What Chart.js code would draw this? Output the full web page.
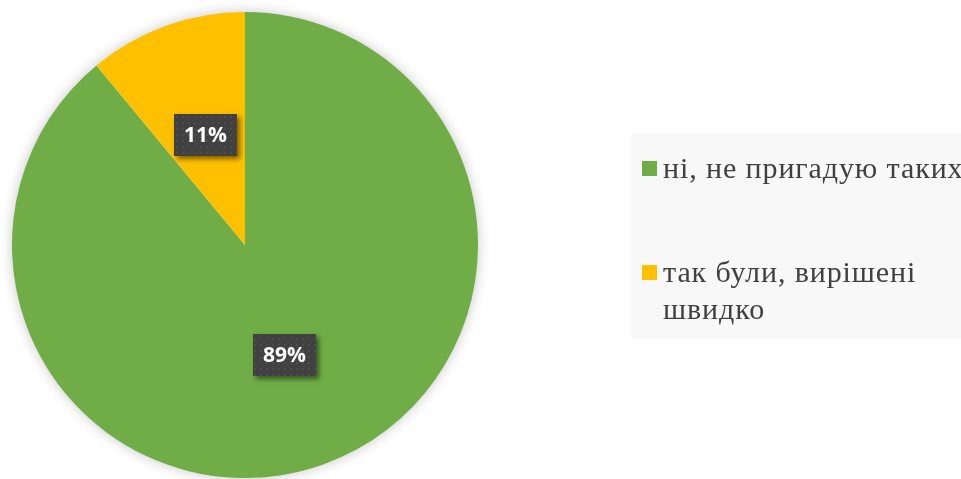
<!DOCTYPE html>
<html>
<head>
<meta charset="utf-8">
<script src="https://cdn.jsdelivr.net/npm/chart.js@4.4.1/dist/chart.umd.min.js"></script>
<style>
  html, body { margin: 0; padding: 0; background: #ffffff; overflow: hidden; }
  #wrap { position: relative; width: 961px; height: 479px; }
</style>
</head>
<body>
<div id="wrap"><canvas id="pieChart"></canvas></div>
<script>
    const categories = ['ні, не пригадую таких', 'так були, вирішені швидко'];
    const shares = [89, 11];
    const sliceColors = ['#70ad47', '#ffc000'];

    const legendFont = '30px "Times New Roman", Times, serif';

    // dotted fill used by the dark value boxes
    function makeDotPattern(ctx) {
        const c = document.createElement('canvas');
        c.width = 6; c.height = 6;
        const p = c.getContext('2d');
        p.fillStyle = '#414141';
        p.fillRect(0, 0, 6, 6);
        p.fillStyle = '#4d4d4d';
        p.fillRect(2, 2, 2, 2);
        return ctx.createPattern(c, 'repeat');
    }

    const pieShadow = {
        id: 'pieShadow',
        beforeDatasetsDraw(chart) {
            const arc = chart.getDatasetMeta(0).data[0];
            if (!arc) return;
            const ctx = chart.ctx;
            ctx.save();
            ctx.shadowColor = 'rgba(0,0,0,0.25)';
            ctx.shadowBlur = 14;
            ctx.fillStyle = '#ffffff';
            ctx.beginPath();
            ctx.arc(arc.x, arc.y, arc.outerRadius - 1, 0, Math.PI * 2);
            ctx.fill();
            ctx.restore();
        }
    };

    const valueBoxes = {
        id: 'valueBoxes',
        afterDatasetsDraw(chart) {
            const ctx = chart.ctx;
            const pattern = makeDotPattern(ctx);
            chart.getDatasetMeta(0).data.forEach(function (arc, i) {
                const pos = arc.tooltipPosition();
                const w = 63, h = 42;
                const x = Math.round(pos.x - w / 2), y = Math.round(pos.y - h / 2);
                ctx.save();
                ctx.shadowColor = 'rgba(0,0,0,0.5)';
                ctx.shadowBlur = 5;
                ctx.shadowOffsetX = 3;
                ctx.shadowOffsetY = 3;
                ctx.fillStyle = '#414141';
                ctx.fillRect(x, y, w, h);
                ctx.restore();
                ctx.save();
                ctx.fillStyle = pattern;
                ctx.fillRect(x, y, w, h);
                ctx.fillStyle = '#ffffff';
                ctx.font = 'bold 21px "Open Sans", sans-serif';
                ctx.textAlign = 'center';
                ctx.textBaseline = 'middle';
                ctx.fillText(shares[i] + '%', x + w / 2, y + h / 2 + 1);
                ctx.restore();
            });
        }
    };

    const sideLegend = {
        id: 'sideLegend',
        afterDraw(chart) {
            const ctx = chart.ctx;
            ctx.save();
            ctx.fillStyle = '#f8f8f8';
            ctx.fillRect(631, 134, 340, 204);
            ctx.font = legendFont;
            ctx.letterSpacing = '0.9px';
            ctx.textBaseline = 'alphabetic';
            const maxWidth = 330;
            const starts = [178, 282];
            chart.data.labels.forEach(function (label, i) {
                const words = label.split(' ');
                const lines = [];
                let line = '';
                words.forEach(function (w) {
                    const test = line ? line + ' ' + w : w;
                    if (line && ctx.measureText(test).width > maxWidth) {
                        lines.push(line);
                        line = w;
                    } else {
                        line = test;
                    }
                });
                lines.push(line);
                ctx.fillStyle = chart.data.datasets[0].backgroundColor[i];
                ctx.fillRect(642, starts[i] - 17, 15, 15);
                ctx.fillStyle = '#404040';
                lines.forEach(function (t, j) {
                    ctx.fillText(t, 663, starts[i] + j * 37);
                });
            });
            ctx.restore();
        }
    };

    function draw() {
        new Chart(document.getElementById('pieChart'), {
            type: 'pie',
            data: {
                labels: categories,
                datasets: [{
                    data: shares,
                    backgroundColor: sliceColors,
                    borderWidth: 0
                }]
            },
            options: {
                responsive: true,
                maintainAspectRatio: false,
                animation: false,
                layout: { padding: { left: 12, right: 483, top: 12, bottom: 1 } },
                plugins: {
                    legend: { display: false },
                    tooltip: { enabled: false }
                }
            },
            plugins: [pieShadow, valueBoxes, sideLegend]
        });
    }

    Promise.all([
        document.fonts.load(legendFont, 'ні'),
        document.fonts.load('bold 21px "Open Sans"', '89%')
    ]).then(draw, draw);
</script>
</body>
</html>
